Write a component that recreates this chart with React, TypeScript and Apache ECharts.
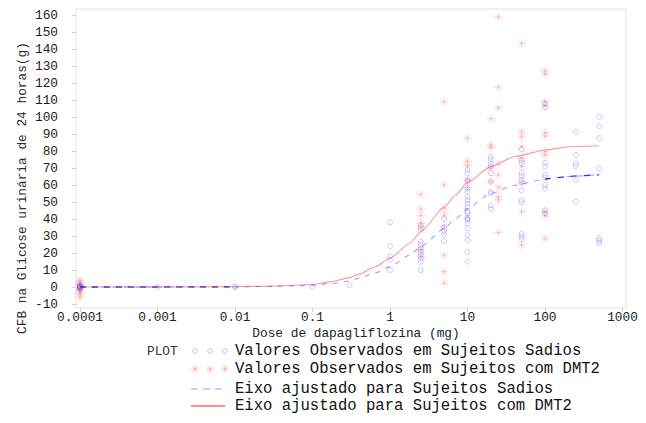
import React, { useEffect, useRef } from 'react';
import * as echarts from 'echarts';

// ---------- data ----------
const xTickLabels = ['0.0001', '0.001', '0.01', '0.1', '1', '10', '100', '1000'];

const healthyDoses = [0.0001, 0.001, 0.01, 0.1, 0.3, 1, 2.5, 5, 10, 20, 50, 100, 250, 500];
const healthyValues: number[][] = [
  [0, 0.5, -0.5, 1, -1, 0.3, 0, -0.3],
  [0],
  [0, 0.2],
  [0],
  [1],
  [38, 24, 18, 16, 10],
  [36.5, 34.5, 26.7, 24.7, 22.7, 20.8, 18.8, 16.9, 14.9, 10],
  [40, 35, 33, 31, 27],
  [69, 67, 63, 62, 58, 56, 53, 51, 49, 47, 44.5, 43.5, 40.5, 39.5, 37.5, 34.5, 30.5, 27.5, 20.5, 15],
  [76.7, 75, 72.7, 71, 67, 62, 56, 55, 48, 46],
  [81, 74.7, 73, 67, 65.3, 63, 61.4, 56.7, 51.2, 49.8, 31.2, 29.6, 28],
  [108, 105.7, 73, 70.8, 66, 64.5, 60, 58, 45, 43.4],
  [91.4, 77.6, 72.7, 71.2, 63, 50.2],
  [100.2, 94.7, 87.5, 69.8, 28.6, 27.2, 25.7],
];

const dmt2Doses = [0.0001, 2.5, 5, 10, 20, 25, 50, 100];
const dmt2Values: number[][] = [
  [4, 2, 1, 0, -1, -2, -4, -6, 3, -3],
  [54.5, 46, 42, 37.5, 34.5, 22, 18],
  [109, 60, 46.3, 42.4, 35.5, 18.8, 9, 2.2],
  [87.5, 74, 71.5, 63, 58.5, 41],
  [99, 83.5, 82, 70, 62],
  [159, 117.5, 105.5, 72.4, 65.9, 58.6, 53.1, 51.2, 32],
  [143.3, 91.4, 88.4, 82.5, 75.7, 70.8, 61, 44.3, 24.7],
  [127, 125.3, 109, 106.5, 90.8, 88.8, 79.6, 77.6, 44.3, 41.8, 28.4],
];

// fitted curves at these doses
const fitDoses = [0.0001, 0.001, 0.01, 0.03, 0.1, 0.17, 0.3, 0.4, 0.65, 1, 1.8, 2.5, 5, 7, 10, 20, 40, 100, 200, 500];
const healthyFit = [0, 0, 0.1, 0.3, 1, 2, 3.5, 5.2, 8.3, 12, 18.8, 23.7, 34.5, 40, 46.3, 55, 59.8, 63.5, 65, 66];
const dmt2Fit = [0, 0, 0.2, 0.5, 1.5, 3, 5.5, 7.6, 11.9, 16.9, 25.7, 32.5, 46.9, 54, 61.5, 70.8, 76.6, 80.6, 82.5, 83.1];

const legendTitle = 'PLOT';
const legendLabels = [
  'Valores Observados em Sujeitos Sadios',
  'Valores Observados em Sujeitos com DMT2',
  'Eixo ajustado para Sujeitos Sadios',
  'Eixo ajustado para Sujeitos com DMT2',
];
const xTitle = 'Dose de dapagliflozina (mg)';
const yTitle = 'CFB na Glicose urinária de 24 horas(g)';

// ---------- styling ----------
const MONO = "'Liberation Mono', 'Courier New', monospace";
const CIRCLE_COLOR = 'rgba(80,80,255,0.38)';
const CROSS_COLOR = 'rgba(255,90,90,0.3)';
const ASTERISK = 'path://M5,0L5,10M0,5L10,5M1.6,1.6L8.4,8.4M8.4,1.6L1.6,8.4';

const lg = Math.log10;

function pairs(doses: number[], values: number[][]) {
  const out: number[][] = [];
  doses.forEach((d, i) => values[i].forEach((v) => out.push([lg(d), v])));
  return out;
}

function asterisk(cx: number, cy: number, r: number, color: string) {
  const d = r * 0.7;
  const seg = (x1: number, y1: number, x2: number, y2: number) => ({
    type: 'line',
    shape: { x1, y1, x2, y2 },
    style: { stroke: color, lineWidth: 1 },
  });
  return {
    type: 'group',
    children: [
      seg(cx - r, cy, cx + r, cy),
      seg(cx, cy - r, cx, cy + r),
      seg(cx - d, cy - d, cx + d, cy + d),
      seg(cx + d, cy - d, cx - d, cy + d),
    ],
  };
}

export default function App() {
  const ref = useRef<HTMLDivElement>(null);

  useEffect(() => {
    if (!ref.current) return;
    const chart = echarts.init(ref.current, undefined, { renderer: 'svg' });

    const rowY = [351, 369, 389, 406];
    const textX = 235;
    const legendGraphics: any[] = [
      {
        type: 'text',
        x: 147,
        y: rowY[0],
        style: { text: legendTitle, font: `12.8px ${MONO}`, fill: '#333', textAlign: 'left', textVerticalAlign: 'middle', align: 'left', verticalAlign: 'middle' },
      },
      ...[195, 210, 225].map((cx) => ({
        type: 'circle',
        shape: { cx, cy: rowY[0], r: 2.3 },
        style: { fill: 'none', stroke: 'rgba(150,150,255,0.6)', lineWidth: 1 },
      })),
      ...[195, 210, 225].map((cx) => asterisk(cx, rowY[1], 4, 'rgba(255,120,120,0.4)')),
      {
        type: 'line',
        shape: { x1: 191, y1: rowY[2], x2: 222, y2: rowY[2] },
        style: { stroke: '#9aa2ff', lineWidth: 1.2, lineDash: [7, 5] },
      },
      {
        type: 'line',
        shape: { x1: 191, y1: rowY[3], x2: 225, y2: rowY[3] },
        style: { stroke: '#ff1a1a', lineWidth: 1.2 },
      },
      ...legendLabels.map((t, i) => ({
        type: 'text',
        x: textX,
        y: rowY[i],
        style: { text: t, font: `15.6px ${MONO}`, fill: '#111', textAlign: 'left', textVerticalAlign: 'middle', align: 'left', verticalAlign: 'middle' },
      })),
    ];

    const option: any = {
      animation: false,
      backgroundColor: '#fff',
      grid: { left: 80, top: 15, width: 542.5, height: 289, containLabel: false },
      xAxis: {
        type: 'value',
        min: -4,
        max: 3,
        interval: 1,
        offset: 4,
        axisLine: { show: false, onZero: false },
        axisTick: { show: true, length: 4, lineStyle: { color: '#cfcfcf' } },
        splitLine: { show: false },
        axisLabel: {
          margin: 3,
          fontFamily: MONO,
          fontSize: 12.8,
          color: '#222',
          formatter: (v: number) => xTickLabels[Math.round(v) + 4] ?? '',
        },
      },
      yAxis: {
        type: 'value',
        min: -10,
        max: 160,
        interval: 10,
        offset: 4,
        axisLine: { show: false, onZero: false },
        axisTick: { show: true, length: 4, lineStyle: { color: '#cfcfcf' } },
        splitLine: { show: false },
        axisLabel: { margin: 18, fontFamily: MONO, fontSize: 12.8, color: '#222' },
      },
      graphic: [
        {
          type: 'rect',
          z: -10,
          shape: { x: 76, y: 9, width: 550, height: 299 },
          style: { fill: 'none', stroke: '#e2e2e2', lineWidth: 1 },
        },
        {
          type: 'text',
          x: 356,
          y: 333,
          style: { text: xTitle, font: `12.8px ${MONO}`, fill: '#222', textAlign: 'center', textVerticalAlign: 'middle', align: 'center', verticalAlign: 'middle' },
        },
        {
          type: 'text',
          x: 22,
          y: 188,
          rotation: Math.PI / 2,
          style: { text: yTitle, font: `12.8px ${MONO}`, fill: '#2a2a40', textAlign: 'center', textVerticalAlign: 'middle', align: 'center', verticalAlign: 'middle' },
        },
        ...legendGraphics,
      ],
      series: [
        {
          name: legendLabels[1],
          type: 'scatter',
          symbol: ASTERISK,
          symbolSize: 9,
          clip: false,
          itemStyle: { color: 'transparent', borderColor: CROSS_COLOR, borderWidth: 1 },
          data: pairs(dmt2Doses, dmt2Values),
          z: 2,
        },
        {
          name: legendLabels[0],
          type: 'scatter',
          symbol: 'circle',
          symbolSize: 5,
          clip: false,
          itemStyle: { color: 'transparent', borderColor: CIRCLE_COLOR, borderWidth: 1 },
          data: pairs(healthyDoses, healthyValues),
          z: 3,
        },
        {
          name: legendLabels[3],
          type: 'line',
          smooth: 0.2,
          smoothMonotone: 'x',
          showSymbol: false,
          symbol: 'none',
          clip: false,
          lineStyle: { color: 'rgba(255,80,80,0.6)', width: 1.1 },
          data: fitDoses.map((d, i) => [lg(d), dmt2Fit[i]]),
          z: 4,
        },
        {
          name: legendLabels[2],
          type: 'line',
          smooth: 0.2,
          smoothMonotone: 'x',
          showSymbol: false,
          symbol: 'none',
          clip: false,
          lineStyle: { color: 'rgba(90,90,255,0.6)', width: 1.1, type: [5, 6] },
          data: fitDoses.map((d, i) => [lg(d), healthyFit[i]]),
          z: 5,
        },
        {
          name: 'overlay-low',
          type: 'line',
          showSymbol: false,
          symbol: 'none',
          clip: false,
          lineStyle: { color: 'rgba(50,40,190,0.85)', width: 1.3, type: [6, 6] },
          data: fitDoses.slice(0, 3).map((d, i) => [lg(d), healthyFit[i]]),
          z: 6,
        },
        {
          name: 'overlay-high',
          type: 'line',
          smooth: 0.2,
          showSymbol: false,
          symbol: 'none',
          clip: false,
          lineStyle: { color: 'rgba(20,20,220,0.85)', width: 1.3, type: [6, 7] },
          data: fitDoses.slice(17).map((d, i) => [lg(d), healthyFit[i + 17]]),
          z: 6,
        },
      ],
    };

    chart.setOption(option);
    return () => chart.dispose();
  }, []);

  return (
    <div
      ref={ref}
      style={{ position: 'fixed', left: 0, top: 0, width: 646, height: 423, background: '#fff' }}
    />
  );
}
